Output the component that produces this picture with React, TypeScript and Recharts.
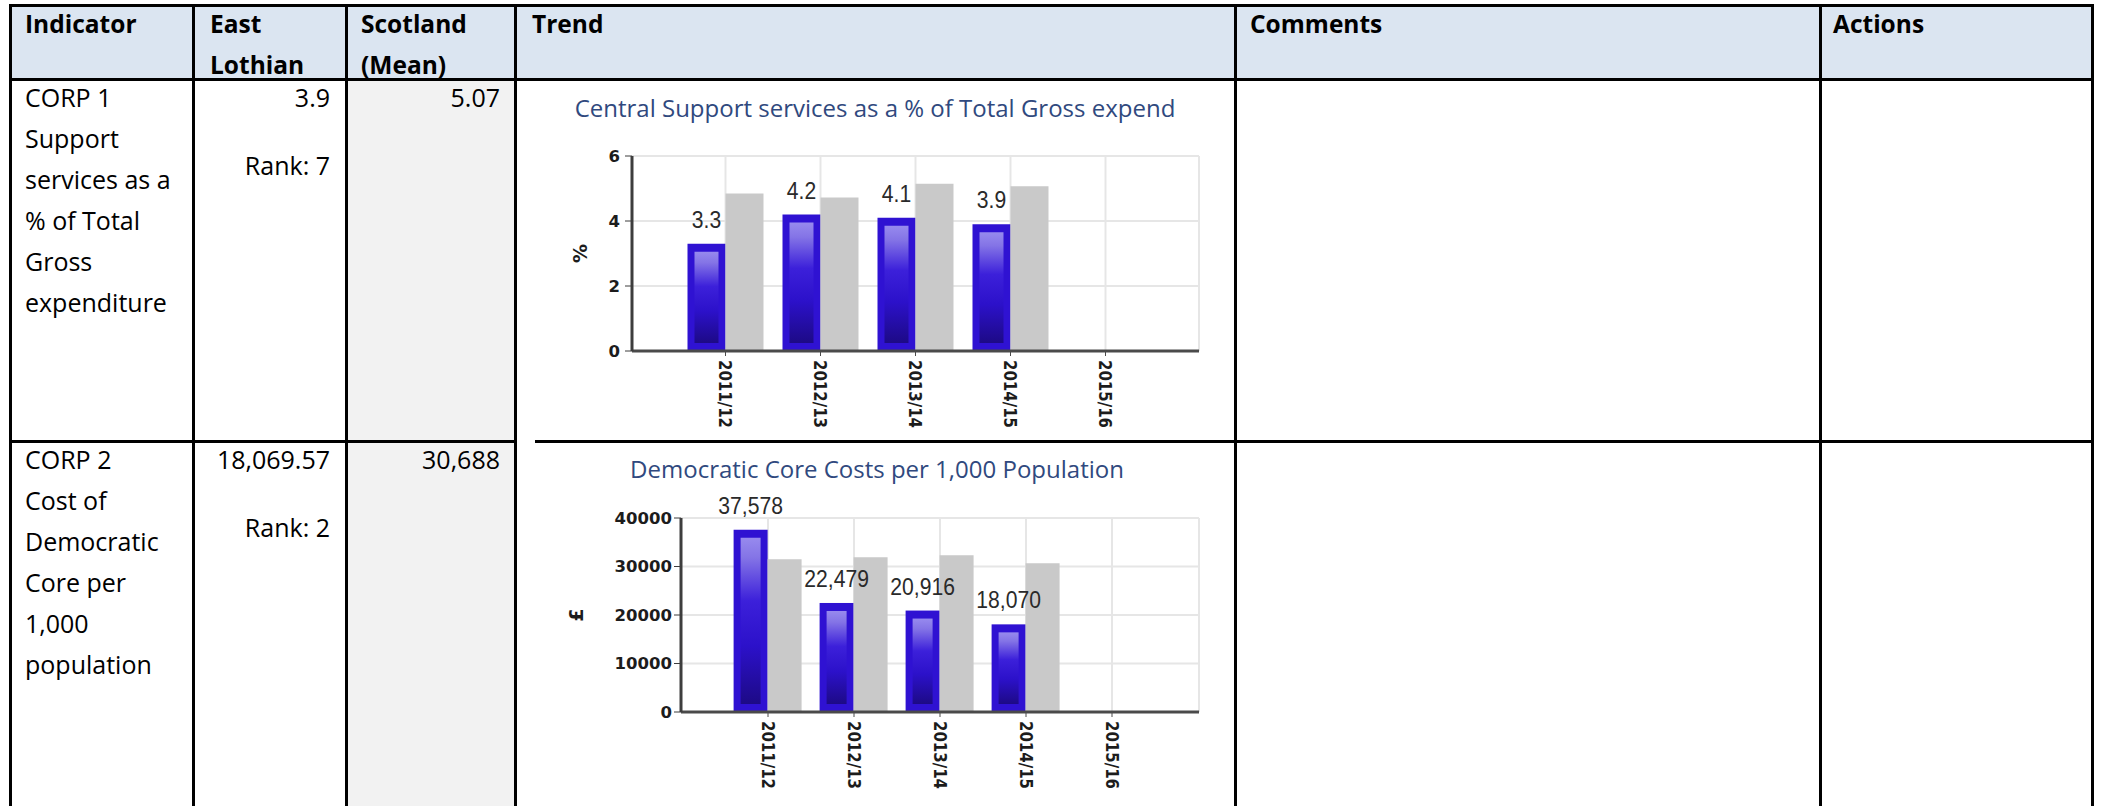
import React from "react";
import { BarChart, Bar, XAxis, YAxis, CartesianGrid, LabelList } from "recharts";

// chart data
const years = ["2011/12", "2012/13", "2013/14", "2014/15", "2015/16"];
const corp1EastLothian = [3.3, 4.2, 4.1, 3.9, null];
const corp1Scotland = [4.85, 4.72, 5.15, 5.07, null];
const corp1Ticks = [0, 2, 4, 6];
const corp2EastLothian = [37578, 22479, 20916, 18070, null];
const corp2Scotland = [31500, 31900, 32300, 30688, null];
const corp2Ticks = [0, 10000, 20000, 30000, 40000];

// table text
const headerLabels = ["Indicator", "East\nLothian", "Scotland\n(Mean)", "Trend", "Comments", "Actions"];
const corp1Lines = ["CORP 1", "Support", "services as a", "% of Total", "Gross", "expenditure"];
const corp2Lines = ["CORP 2", "Cost of", "Democratic", "Core per", "1,000", "population"];
const eastLothianValues = ["3.9", "18,069.57"];
const eastLothianRanks = ["Rank: 7", "Rank: 2"];
const scotlandValues = ["5.07", "30,688"];
const chartTitles = [
  "Central Support services as a % of Total Gross expend",
  "Democratic Core Costs per 1,000 Population",
];

const corp1Data = years.map((year, i) => ({
  year,
  eastLothian: corp1EastLothian[i],
  scotland: corp1Scotland[i],
}));
const corp2Data = years.map((year, i) => ({
  year,
  eastLothian: corp2EastLothian[i],
  scotland: corp2Scotland[i],
}));

const FONT = "'Open Sans', sans-serif";
const AXIS_FONT = "'DejaVu Sans', sans-serif";
const colLines = [10, 193, 346, 515, 1235, 1820, 2092];
const textX = [25, 210, 361, 532, 1250, 1833];

const GlossyBar = (props: any) => {
  const { x, y, width, height, gid } = props;
  if (height == null || height <= 0) return null;
  const ix = 7;
  const iy = 8;
  return (
    <g>
      <rect x={x} y={y} width={width} height={height} fill="#2f12d2" />
      {height > iy * 2 && (
        <rect
          x={x + ix}
          y={y + iy}
          width={width - ix * 2}
          height={height - iy * 2}
          fill={`url(#${gid})`}
        />
      )}
    </g>
  );
};

// value above the blue bar, a slightly narrow face like the original
const makeValueLabel = (format: (v: any) => string) => (props: any) => {
  const { x, y, width, value } = props;
  const text = format(value);
  if (!text) return null;
  const cx = x + width / 2;
  const by = y - 16;
  return (
    <text
      transform={`translate(${cx}, ${by}) scale(0.88, 1)`}
      textAnchor="middle"
      fill="#2a2a2a"
      fontSize={24}
      fontFamily="'Liberation Sans', Arial, sans-serif"
    >
      {text}
    </text>
  );
};

const RotatedTick = (props: any) => {
  const { x, y, payload } = props;
  return (
    <text
      transform={`translate(${x}, ${y}) scale(1.2, 1) rotate(90)`}
      dy="0.36em"
      textAnchor="start"
      fill="#1c1c1c"
      fontFamily={AXIS_FONT}
      fontWeight="bold"
      fontSize={15}
    >
      {payload.value}
    </text>
  );
};

const unitLabel = (text: string, gap: number) => (props: any) => {
  const vb = props.viewBox || {};
  const cx = vb.x + vb.width - gap;
  const cy = vb.y + vb.height / 2;
  return (
    <text
      x={cx}
      y={cy}
      transform={`rotate(-90, ${cx}, ${cy})`}
      textAnchor="middle"
      dominantBaseline="central"
      fill="#1c1c1c"
      fontFamily={AXIS_FONT}
      fontWeight="bold"
      fontSize={19}
    >
      {text}
    </text>
  );
};

const Gradient = ({ id }: { id: string }) => (
  <defs>
    <linearGradient id={id} x1="0" y1="0" x2="0" y2="1">
      <stop offset="0%" stopColor="#978aee" />
      <stop offset="12%" stopColor="#8474e6" />
      <stop offset="38%" stopColor="#3c20da" />
      <stop offset="65%" stopColor="#2c11ca" />
      <stop offset="100%" stopColor="#1d0a86" />
    </linearGradient>
  </defs>
);

interface TrendChartProps {
  data: any[];
  ticks: number[];
  max: number;
  height: number;
  xHeight: number;
  yWidth: number;
  marginLeft: number;
  pad: number;
  unit: string;
  unitGap: number;
  tickMargin: number;
  gid: string;
  format: (v: any) => string;
}

function TrendChart(p: TrendChartProps) {
  return (
    <BarChart
      width={720}
      height={p.height}
      data={p.data}
      margin={{ top: 77, right: 36, bottom: 10, left: p.marginLeft }}
      barCategoryGap="10%"
      barGap={0}
    >
      <Gradient id={p.gid} />
      <CartesianGrid stroke="#e6e6e6" strokeWidth={2} />
      <XAxis
        dataKey="year"
        interval={0}
        padding={{ left: p.pad, right: p.pad }}
        height={p.xHeight}
        tickSize={5}
        tickMargin={4}
        tick={<RotatedTick />}
        axisLine={{ stroke: "#4a4a4a", strokeWidth: 3 }}
        tickLine={{ stroke: "#4a4a4a" }}
      />
      <YAxis
        domain={[0, p.max]}
        ticks={p.ticks}
        interval={0}
        width={p.yWidth}
        tickSize={7}
        tickMargin={p.tickMargin}
        axisLine={{ stroke: "#3d3d3d", strokeWidth: 3 }}
        tickLine={{ stroke: "#3d3d3d" }}
        tick={{ fill: "#1c1c1c", fontSize: 16.5, fontFamily: AXIS_FONT, fontWeight: "bold" }}
        label={unitLabel(p.unit, p.unitGap)}
      />
      <YAxis
        yAxisId="edge"
        orientation="right"
        domain={[0, p.max]}
        width={0}
        tick={false}
        tickLine={false}
        axisLine={{ stroke: "#e6e6e6", strokeWidth: 2 }}
      />
      <Bar
        dataKey="eastLothian"
        fill="#2f12d2"
        isAnimationActive={false}
        shape={(sp: any) => <GlossyBar {...sp} gid={p.gid} />}
      >
        <LabelList dataKey="eastLothian" position="top" content={makeValueLabel(p.format)} />
      </Bar>
      <Bar dataKey="scotland" fill="#c9c9c9" isAnimationActive={false} />
    </BarChart>
  );
}

const VLine = ({ x, y1, y2 }: { x: number; y1: number; y2: number }) => (
  <div style={{ position: "absolute", left: x - 1.5, top: y1, width: 3, height: y2 - y1, background: "#000" }} />
);
const HLine = ({ y, x1, x2 }: { y: number; x1: number; x2: number }) => (
  <div style={{ position: "absolute", left: x1, top: y - 1.5, width: x2 - x1, height: 3, background: "#000" }} />
);

const textBase: React.CSSProperties = {
  position: "absolute",
  fontFamily: FONT,
  fontSize: 25,
  lineHeight: "41px",
  color: "#000",
  whiteSpace: "pre",
};

export default function App() {
  const rowTops = [79, 441];
  return (
    <div
      style={{
        position: "absolute",
        left: 0,
        top: 0,
        width: 2103,
        height: 806,
        overflow: "hidden",
        background: "#fff",
      }}
    >
      {/* backgrounds */}
      <div style={{ position: "absolute", left: 10, top: 5, width: 2082, height: 74, background: "#dbe5f1" }} />
      <div style={{ position: "absolute", left: 346, top: 79, width: 169, height: 727, background: "#f2f2f2" }} />

      {/* header */}
      {headerLabels.map((h, i) => (
        <div key={h} style={{ ...textBase, fontSize: 24.5, left: textX[i], top: 3, fontWeight: 700 }}>
          {h}
        </div>
      ))}

      {/* indicator rows */}
      {[corp1Lines, corp2Lines].map((lines, r) => (
        <div key={r} style={{ ...textBase, left: textX[0], top: rowTops[r] - 2 }}>
          {lines.join("\n")}
        </div>
      ))}
      {eastLothianValues.map((v, r) => (
        <div key={v} style={{ ...textBase, left: 193, width: 137, textAlign: "right", top: rowTops[r] - 2 }}>
          {v}
        </div>
      ))}
      {eastLothianRanks.map((v, r) => (
        <div key={v} style={{ ...textBase, left: 193, width: 137, textAlign: "right", top: rowTops[r] + 66 }}>
          {v}
        </div>
      ))}
      {scotlandValues.map((v, r) => (
        <div key={v} style={{ ...textBase, left: 346, width: 154, textAlign: "right", top: rowTops[r] - 2 }}>
          {v}
        </div>
      ))}

      {/* charts */}
      {chartTitles.map((t, r) => (
        <div
          key={t}
          style={{
            position: "absolute",
            left: 515 + r * 2,
            width: 720,
            top: r === 0 ? 92 : 453,
            textAlign: "center",
            fontFamily: FONT,
            fontSize: 24,
            lineHeight: "32px",
            color: "#30497e",
            whiteSpace: "nowrap",
          }}
        >
          {t}
        </div>
      ))}
      <div style={{ position: "absolute", left: 515, top: 79 }}>
        <TrendChart
          data={corp1Data}
          ticks={corp1Ticks}
          max={6}
          height={362}
          xHeight={80}
          yWidth={80}
          marginLeft={37}
          pad={46}
          unit="%"
          unitGap={52}
          tickMargin={5}
          gid="gloss1"
          format={(v: any) => (v == null ? "" : Number(v).toFixed(1))}
        />
      </div>
      <div style={{ position: "absolute", left: 515, top: 441 }}>
        <TrendChart
          data={corp2Data}
          ticks={corp2Ticks}
          max={40000}
          height={365}
          xHeight={84}
          yWidth={100}
          marginLeft={66}
          pad={44}
          unit="£"
          unitGap={105}
          tickMargin={2}
          gid="gloss2"
          format={(v: any) => (v == null ? "" : Number(v).toLocaleString("en-GB"))}
        />
      </div>

      {/* table borders */}
      {colLines.map((x) => (
        <VLine key={x} x={x} y1={4} y2={806} />
      ))}
      <HLine y={5} x1={9} x2={2094} />
      <HLine y={79} x1={9} x2={2094} />
      <HLine y={441} x1={9} x2={517} />
      <HLine y={441} x1={535} x2={2094} />
    </div>
  );
}
